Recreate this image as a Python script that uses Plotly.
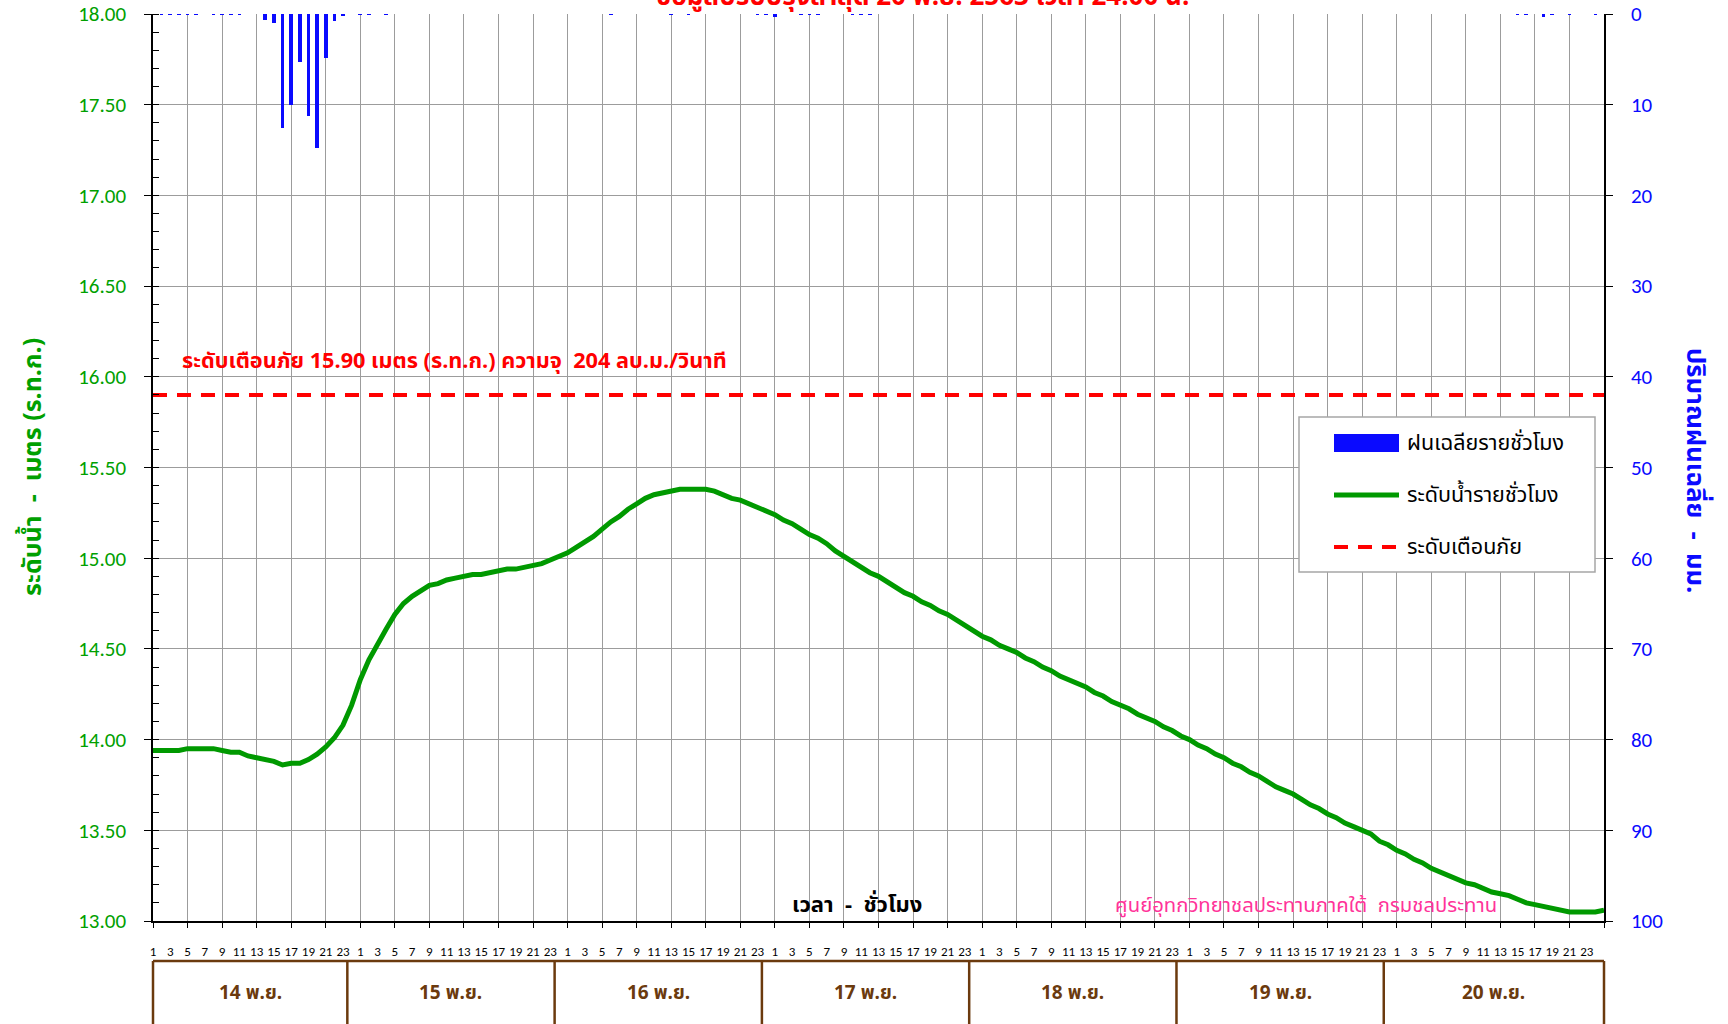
import plotly.graph_objects as go

# ---------------- data ----------------
day_labels = ["14 พ.ย.", "15 พ.ย.", "16 พ.ย.", "17 พ.ย.", "18 พ.ย.", "19 พ.ย.", "20 พ.ย."]
hour_labels = [str(h) for h in range(1, 24, 2)]

level_14 = [13.94, 13.94, 13.94, 13.94, 13.95, 13.95, 13.95, 13.95, 13.94, 13.93, 13.93, 13.91,
            13.90, 13.89, 13.88, 13.86, 13.87, 13.87, 13.89, 13.92, 13.96, 14.01, 14.08, 14.19]
level_15 = [14.33, 14.44, 14.53, 14.61, 14.69, 14.75, 14.79, 14.82, 14.85, 14.86, 14.88, 14.89,
            14.90, 14.91, 14.91, 14.92, 14.93, 14.94, 14.94, 14.95, 14.96, 14.97, 14.99, 15.01]
level_16 = [15.03, 15.06, 15.09, 15.12, 15.16, 15.20, 15.23, 15.27, 15.30, 15.33, 15.35, 15.36,
            15.37, 15.38, 15.38, 15.38, 15.38, 15.37, 15.35, 15.33, 15.32, 15.30, 15.28, 15.26]
level_17 = [15.24, 15.21, 15.19, 15.16, 15.13, 15.11, 15.08, 15.04, 15.01, 14.98, 14.95, 14.92,
            14.90, 14.87, 14.84, 14.81, 14.79, 14.76, 14.74, 14.71, 14.69, 14.66, 14.63, 14.60]
level_18 = [14.57, 14.55, 14.52, 14.50, 14.48, 14.45, 14.43, 14.40, 14.38, 14.35, 14.33, 14.31,
            14.29, 14.26, 14.24, 14.21, 14.19, 14.17, 14.14, 14.12, 14.10, 14.07, 14.05, 14.02]
level_19 = [14.00, 13.97, 13.95, 13.92, 13.90, 13.87, 13.85, 13.82, 13.80, 13.77, 13.74, 13.72,
            13.70, 13.67, 13.64, 13.62, 13.59, 13.57, 13.54, 13.52, 13.50, 13.48, 13.44, 13.42]
level_20 = [13.39, 13.37, 13.34, 13.32, 13.29, 13.27, 13.25, 13.23, 13.21, 13.20, 13.18, 13.16,
            13.15, 13.14, 13.12, 13.10, 13.09, 13.08, 13.07, 13.06, 13.05, 13.05, 13.05, 13.05, 13.06]

rain_hour = [1, 2, 3, 4, 5, 7, 8, 9, 10, 13, 14, 15, 16, 17, 18, 19, 20, 21, 22, 24, 25, 27,
             53, 60, 62, 70, 71, 72, 75, 76, 77, 81, 82, 83, 158, 159, 161, 162, 164, 167]
rain_mm = [0.1, 0.1, 0.1, 0.1, 0.1, 0.1, 0.1, 0.1, 0.1, 0.7, 1.0, 12.6, 10.0, 5.3, 11.2, 14.8, 4.8, 0.8,
           0.2, 0.1, 0.1, 0.1, 0.1, 0.1, 0.1, 0.1, 0.1, 0.3, 0.1, 0.1, 0.1, 0.1, 0.1, 0.1,
           0.1, 0.1, 0.3, 0.1, 0.1, 0.1]

warning_level = [15.90]
level_ticks = [13.0, 13.5, 14.0, 14.5, 15.0, 15.5, 16.0, 16.5, 17.0, 17.5, 18.0]
rain_ticks = [0, 10, 20, 30, 40, 50, 60, 70, 80, 90, 100]

water_level = level_14 + level_15 + level_16 + level_17 + level_18 + level_19 + level_20
n_hours = 24 * len(day_labels)
hour_x = list(range(len(water_level)))

# ---------------- layout geometry (pixels) ----------------
W, H = 1728, 1024
L, R, T, B = 153, 1604, 14, 921

def px(xp):
    return (xp - L) / (R - L)

def py(yp):
    return (B - yp) / (B - T)

THAI = "Tahoma, 'Noto Sans Thai', 'Leelawadee UI', 'Noto Sans', sans-serif"
NUM = "Calibri, Carlito, 'Liberation Sans', Arial, sans-serif"
GREEN = "#009900"
BLUE = "#0a0aff"
RED = "#ff0000"
BROWN = "#6b3a0e"
GRID = "#9c9c9c"

fig = go.Figure()

fig.add_trace(go.Bar(
    x=rain_hour, y=rain_mm, xaxis="x", yaxis="y2",
    marker=dict(color=BLUE, line=dict(width=0)), width=0.42,
    showlegend=False, hoverinfo="skip"))

fig.add_trace(go.Scatter(
    x=hour_x, y=water_level, xaxis="x", yaxis="y", mode="lines",
    line=dict(color=GREEN, width=5), showlegend=False, hoverinfo="skip"))

fig.add_trace(go.Scatter(
    x=[0, n_hours], y=warning_level * 2, xaxis="x2", yaxis="y", mode="lines",
    line=dict(color=RED, width=4, dash="14px,10px"), showlegend=False, hoverinfo="skip"))

tickvals = [d * 24 + h - 1 for d in range(len(day_labels)) for h in range(1, 24, 2)]
ticktext = hour_labels * len(day_labels)

fig.update_layout(
    width=W, height=H,
    margin=dict(l=L, r=W - R, t=T, b=H - B, pad=0, autoexpand=False),
    paper_bgcolor="white", plot_bgcolor="white",
    showlegend=False,
    bargap=0,
    xaxis=dict(
        range=[0, n_hours], tickmode="array", tickvals=tickvals, ticktext=ticktext,
        ticks="outside", ticklen=18, tickcolor="rgba(0,0,0,0)",
        tickfont=dict(family=NUM, size=13, color="black"),
        showgrid=False, zeroline=False, showline=True, linecolor="black", linewidth=1.5,
        anchor="y", automargin=False),
    xaxis2=dict(
        range=[0, n_hours], overlaying="x", anchor="y", side="bottom",
        tickmode="array", tickvals=list(range(0, n_hours + 1, 4)),
        ticks="outside", ticklen=6, tickcolor="black", tickwidth=1,
        showticklabels=False, showgrid=True, gridcolor=GRID, gridwidth=1.3,
        zeroline=False, showline=False, automargin=False),
    yaxis=dict(
        range=[13, 18], tickmode="array", tickvals=level_ticks,
        ticktext=[f"{v:.2f}" for v in level_ticks],
        ticks="outside", ticklen=7, tickcolor="black", tickwidth=1.2,
        ticklabelstandoff=14,
        minor=dict(ticks="inside", ticklen=6, tickcolor="black", dtick=0.1, tick0=13, showgrid=False),
        tickfont=dict(family=NUM, size=21, color="#00a000"),
        showgrid=True, gridcolor=GRID, gridwidth=1.3, zeroline=False,
        showline=True, linecolor="black", linewidth=1.5, anchor="x", automargin=False),
    yaxis2=dict(
        range=[100, 0], overlaying="y", side="right", anchor="x",
        tickmode="array", tickvals=rain_ticks,
        ticks="outside", ticklen=7, tickcolor="black", tickwidth=1.2,
        ticklabelstandoff=14,
        tickfont=dict(family=NUM, size=21, color=BLUE),
        showgrid=False, zeroline=False, showline=True, linecolor="black", linewidth=1.5,
        automargin=False),
)

shapes = []
annotations = []

# day table below the chart
bounds = [0] + [24 * k - 1.5 for k in range(1, len(day_labels))] + [n_hours]
box_top = 961
shapes.append(dict(type="line", xref="paper", yref="paper", x0=0, x1=1,
                   y0=py(box_top), y1=py(box_top), line=dict(color=BROWN, width=2.5)))
for b in bounds:
    xb = b / n_hours
    shapes.append(dict(type="line", xref="paper", yref="paper", x0=xb, x1=xb,
                       y0=py(box_top), y1=py(H + 10), line=dict(color=BROWN, width=2.5)))
for i, lab in enumerate(day_labels):
    xc = (bounds[i] + bounds[i + 1]) / 2 / n_hours
    annotations.append(dict(xref="paper", yref="paper", x=xc, y=py(993), text=f"<b>{lab}</b>",
                            showarrow=False, font=dict(family=THAI, size=19, color=BROWN),
                            xanchor="center", yanchor="middle"))

# warning text
annotations.append(dict(xref="paper", yref="y", x=px(180), y=warning_level[0], yshift=33,
                        text="<b>ระดับเตือนภัย 15.90 เมตร (ร.ท.ก.) ความจุ  204 ลบ.ม./วินาที</b>",
                        showarrow=False, xanchor="left", yanchor="middle",
                        font=dict(family=THAI, size=21.7, color=RED)))

# axis titles
annotations.append(dict(xref="paper", yref="paper", x=px(33), y=py(467),
                        text="<b>ระดับน้ำ  -  เมตร (ร.ท.ก.)</b>", textangle=-90, showarrow=False,
                        xanchor="center", yanchor="middle",
                        font=dict(family=THAI, size=25, color="#00a000")))
annotations.append(dict(xref="paper", yref="paper", x=px(1695), y=py(470),
                        text="<b>ปริมาณฝนเฉลี่ย  -  มม.</b>", textangle=90, showarrow=False,
                        xanchor="center", yanchor="middle",
                        font=dict(family=THAI, size=25.5, color=BLUE)))
annotations.append(dict(xref="paper", yref="paper", x=px(857), y=py(905),
                        text="<b>เวลา  -  ชั่วโมง</b>", showarrow=False, xanchor="center", yanchor="middle",
                        font=dict(family=THAI, size=22, color="black")))
annotations.append(dict(xref="paper", yref="paper", x=px(1113), y=py(905),
                        text="ศูนย์อุทกวิทยาชลประทานภาคใต้  กรมชลประทาน", showarrow=False,
                        xanchor="left", yanchor="middle",
                        font=dict(family=THAI, size=20.3, color="#ff3399")))
# top (cut-off) title
annotations.append(dict(xref="paper", yref="paper", x=px(922), y=py(19),
                        text="<b>ข้อมูลปรับปรุงล่าสุด 20 พ.ย. 2563 เวลา 24.00 น.</b>", showarrow=False,
                        xanchor="center", yanchor="bottom",
                        font=dict(family=THAI, size=26, color=RED)))

# custom legend
shapes.append(dict(type="rect", xref="paper", yref="paper", x0=px(1299), x1=px(1595),
                   y0=py(572), y1=py(417), fillcolor="white", line=dict(color="#a6a6a6", width=1.5),
                   layer="above"))
shapes.append(dict(type="rect", xref="paper", yref="paper", x0=px(1334), x1=px(1399),
                   y0=py(452), y1=py(434), fillcolor=BLUE, line=dict(width=0), layer="above"))
shapes.append(dict(type="line", xref="paper", yref="paper", x0=px(1334), x1=px(1399),
                   y0=py(495), y1=py(495), line=dict(color=GREEN, width=5), layer="above"))
shapes.append(dict(type="line", xref="paper", yref="paper", x0=px(1334), x1=px(1399),
                   y0=py(547), y1=py(547), line=dict(color=RED, width=4, dash="14px,10px"),
                   layer="above"))
for txt, yc in [("ฝนเฉลียรายชั่วโมง", 443), ("ระดับน้ำรายชั่วโมง", 495), ("ระดับเตือนภัย", 547)]:
    annotations.append(dict(xref="paper", yref="paper", x=px(1405), y=py(yc), text=txt,
                            showarrow=False, xanchor="left", yanchor="middle",
                            font=dict(family=THAI, size=21.5, color="black")))

fig.update_layout(shapes=shapes, annotations=annotations)

fig.write_html("out.html", config=dict(displayModeBar=False),
               post_script="document.body.style.margin='0';document.body.style.overflow='hidden';")
